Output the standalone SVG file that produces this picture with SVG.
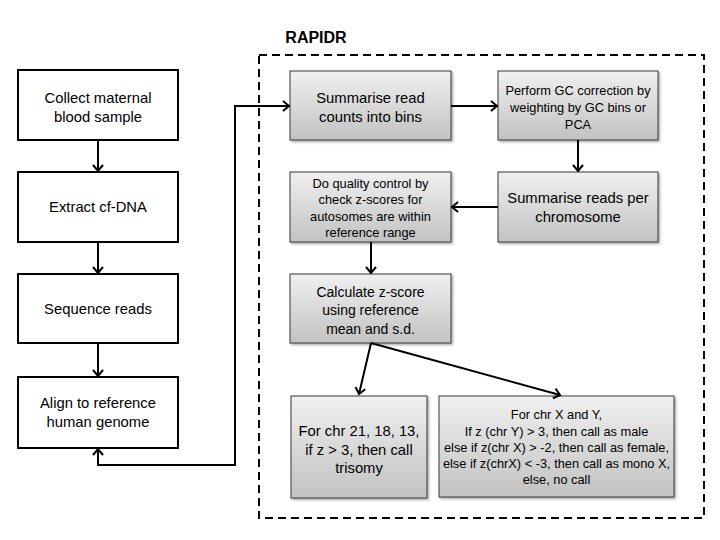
<svg xmlns="http://www.w3.org/2000/svg" width="720" height="540" viewBox="0 0 720 540">
<defs>
<linearGradient id="g" x1="0" y1="0" x2="0" y2="1">
<stop offset="0" stop-color="#f0f0f0"/>
<stop offset="1" stop-color="#c2c2c2"/>
</linearGradient>
<marker id="arr" viewBox="-10 -8 12 16" refX="0" refY="0" markerWidth="12" markerHeight="16" markerUnits="userSpaceOnUse" orient="auto-start-reverse">
<path d="M-6,-5 L0,0 L-6,5" fill="none" stroke="#000" stroke-width="2"/>
</marker>
<filter id="sh" x="-10%" y="-10%" width="130%" height="130%">
<feDropShadow dx="1.5" dy="1.5" stdDeviation="1" flood-color="#000" flood-opacity="0.35"/>
</filter>
</defs>
<style>
text{font-family:"Liberation Sans",Arial,sans-serif;fill:#000;text-anchor:middle}
.w{fill:#fff;stroke:#000;stroke-width:2}
.gr{fill:url(#g);stroke:#3a3a3a;stroke-width:1;filter:url(#sh)}
.c{fill:none;stroke:#000;stroke-width:2}
.f15{font-size:14.8px}
.f14{font-size:14px}
.f13{font-size:12.8px}
</style>
<rect width="720" height="540" fill="#fff"/>
<text x="316" y="43" style="font-size:16px;font-weight:bold">RAPIDR</text>
<rect x="259" y="55" width="445" height="463" fill="none" stroke="#000" stroke-width="2" stroke-dasharray="8,5"/>

<g id="n1"><rect class="w" x="18" y="70" width="160" height="70"/>
<text class="f15" x="98" y="103">Collect maternal</text><text class="f15" x="98" y="122">blood sample</text></g>
<g id="n2"><rect class="w" x="18" y="172" width="160" height="70"/>
<text class="f15" x="98" y="212">Extract cf-DNA</text></g>
<g id="n3"><rect class="w" x="18" y="274" width="160" height="69"/>
<text class="f15" x="98" y="314">Sequence reads</text></g>
<g id="n4"><rect class="w" x="18" y="377" width="160" height="71"/>
<text class="f15" x="98" y="408">Align to reference</text><text class="f15" x="98" y="427">human genome</text></g>

<g id="nA"><rect class="gr" x="290" y="71" width="161" height="69"/>
<text class="f15" x="370.5" y="103">Summarise read</text><text class="f15" x="370.5" y="122">counts into bins</text></g>
<g id="nB"><rect class="gr" x="498" y="71" width="160" height="69"/>
<text class="f13" x="578" y="95">Perform GC correction by</text><text class="f13" x="578" y="112">weighting by GC bins or</text><text class="f13" x="578" y="129">PCA</text></g>
<g id="nC"><rect class="gr" x="498" y="172" width="160" height="70"/>
<text class="f15" x="578" y="203">Summarise reads per</text><text class="f15" x="578" y="222">chromosome</text></g>
<g id="nD"><rect class="gr" x="290" y="172" width="161" height="70"/>
<text class="f13" x="370.5" y="188">Do quality control by</text><text class="f13" x="370.5" y="204">check z-scores for</text><text class="f13" x="370.5" y="221">autosomes are within</text><text class="f13" x="370.5" y="237">reference range</text></g>
<g id="nE"><rect class="gr" x="290" y="274" width="161" height="69"/>
<text class="f14" x="370.5" y="297">Calculate z-score</text><text class="f14" x="370.5" y="315">using reference</text><text class="f14" x="370.5" y="334">mean and s.d.</text></g>
<g id="nF"><rect class="gr" x="291" y="396" width="136" height="102"/>
<text class="f15" x="359" y="436">For chr 21, 18, 13,</text><text class="f15" x="359" y="455">if z &gt; 3, then call</text><text class="f15" x="359" y="473">trisomy</text></g>
<g id="nG"><rect class="gr" x="439" y="396" width="235" height="101"/>
<text class="f13" x="556.5" y="419">For chr X and Y,</text><text class="f13" x="556.5" y="436">If z (chr Y) &gt; 3, then call as male</text><text class="f13" x="556.5" y="452">else if z(chr X) &gt; -2, then call as female,</text><text class="f13" x="556.5" y="468">else if z(chrX) &lt; -3, then call as mono X,</text><text class="f13" x="556.5" y="484">else, no call</text></g>

<g id="connectors">
<line class="c" x1="98" y1="140" x2="98" y2="171" marker-end="url(#arr)"/>
<line class="c" x1="98" y1="242" x2="98" y2="273" marker-end="url(#arr)"/>
<line class="c" x1="98" y1="343" x2="98" y2="376" marker-end="url(#arr)"/>
<path class="c" d="M98,449 L98,465 L235,465 L235,106 L289,106" marker-start="url(#arr)" marker-end="url(#arr)"/>
<line class="c" x1="451" y1="106" x2="497" y2="106" marker-end="url(#arr)"/>
<line class="c" x1="578" y1="140" x2="578" y2="171" marker-end="url(#arr)"/>
<line class="c" x1="498" y1="207" x2="452" y2="207" marker-end="url(#arr)"/>
<line class="c" x1="371" y1="242" x2="371" y2="273" marker-end="url(#arr)"/>
<line class="c" x1="371" y1="343" x2="359" y2="394" marker-end="url(#arr)"/>
<line class="c" x1="371" y1="343" x2="560" y2="395" marker-end="url(#arr)"/>
</g>
</svg>
